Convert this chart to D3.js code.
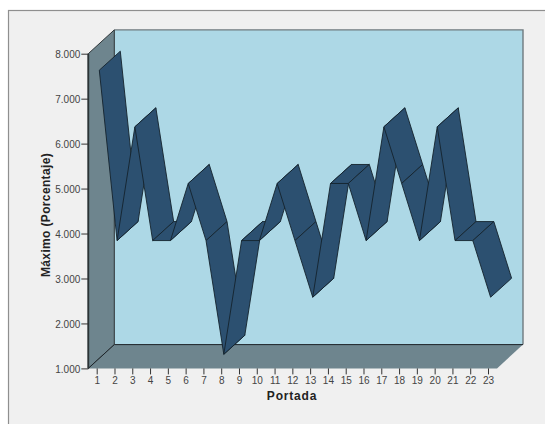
<!DOCTYPE html>
<html><head><meta charset="utf-8">
<script src="https://cdn.jsdelivr.net/npm/d3@7/dist/d3.min.js"></script>
<style>html,body{margin:0;padding:0;background:#fff}svg{display:block}</style>
</head><body><div id="c"></div>
<script>
const portada = d3.range(1, 24);
const maximo = [7.58,3.79,6.32,3.79,3.79,5.06,3.79,1.26,3.79,3.79,5.06,3.79,2.53,5.06,5.06,3.79,6.32,5.06,3.79,6.32,3.79,3.79,2.53];
const yTicks = [1,2,3,4,5,6,7,8];
const fmt = d => d + ".000";

const W = 545, H = 424;
const svg = d3.select("#c").append("svg").attr("width", W).attr("height", H);
svg.append("rect").attr("width", W).attr("height", H).attr("fill", "#fff");
svg.append("rect").attr("x", 8.5).attr("y", 10.5).attr("width", W).attr("height", H).attr("fill", "#f0f0f0").attr("stroke", "#8f8f8f").attr("stroke-width", 1.2);

const x = d3.scaleLinear().domain([1, 23]).range([96.7, 488]);
const y = d3.scaleLinear().domain([1, 8]).range([368.4, 53.7]);

// box
const fl = 88.3, fr = 497, bt = 53.7, bb = 368.4, dx = 26, dy = -23.8;
const wall = "#6e858e", back = "#add8e6", ln = "#1c2328";
svg.append("path").attr("d", `M${fl+dx},${bt+dy}H${fr+dx}V${bb+dy}H${fl+dx}Z`).attr("fill", back);
svg.append("path").attr("d", `M${fl+dx},${bt+dy}H${fr+dx}V${bb+dy}`).attr("fill", "none").attr("stroke", "#6f7a7f").attr("stroke-width", 1.4);
svg.append("path").attr("d", `M${fl},${bt}L${fl+dx},${bt+dy}V${bb+dy}L${fl},${bb}Z`).attr("fill", wall).attr("stroke", "#2b3336").attr("stroke-width", 1);
svg.append("path").attr("d", `M${fl},${bb}L${fl+dx},${bb+dy}H${fr+dx}L${fr},${bb}Z`).attr("fill", wall);
svg.append("path").attr("d", `M${fl},${bb}L${fl+dx},${bb+dy}H${fr+dx}`).attr("fill", "none").attr("stroke", ln).attr("stroke-width", 1);
svg.append("line").attr("x1", fl).attr("x2", fl).attr("y1", bt).attr("y2", bb).attr("stroke", "#2b3336").attr("stroke-width", 1.8);

// ribbon
const ox = 2.6, oy = -2.4, rx = 21, ry = -19;
const pts = maximo.map((v, i) => ({fx: x(portada[i]) + ox, fy: y(v) + oy}));
svg.append("g").selectAll("path").data(d3.pairs(pts)).join("path")
  .attr("d", ([a, b]) => `M${a.fx},${a.fy}L${b.fx},${b.fy}L${b.fx+rx},${b.fy+ry}L${a.fx+rx},${a.fy+ry}Z`)
  .attr("fill", "#2c5070").attr("stroke", "#14222d").attr("stroke-width", 0.9).attr("stroke-linejoin", "round");

// axes
const style = g => {
  g.select(".domain").remove();
  g.selectAll("line").attr("stroke", "#333").attr("stroke-width", 1);
  g.selectAll("text").attr("font-family", "'Liberation Sans',Arial,sans-serif").attr("font-size", 10).attr("fill", "#444");
};
svg.append("g").attr("transform", `translate(${fl},0)`)
  .call(d3.axisLeft(y).tickValues(yTicks).tickFormat(fmt).tickSize(7).tickPadding(1)).call(style)
  .selectAll("text").attr("dy", "0.42em");
svg.append("g").attr("transform", `translate(0,${bb})`)
  .call(d3.axisBottom(x).tickValues(portada).tickFormat(d3.format("d")).tickSize(6).tickPadding(3)).call(style);

const title = s => s.attr("font-family", "'Liberation Sans',Arial,sans-serif").attr("font-size", 12).attr("font-weight", "bold").attr("fill", "#222").attr("text-anchor", "middle");
svg.append("text").text("Portada").attr("x", 292).attr("y", 400).attr("letter-spacing", 0.8).call(title);
svg.append("text").text("Máximo (Porcentaje)").attr("letter-spacing", 0.35).attr("transform", "translate(50,215) rotate(-90)").call(title);
</script></body></html>
